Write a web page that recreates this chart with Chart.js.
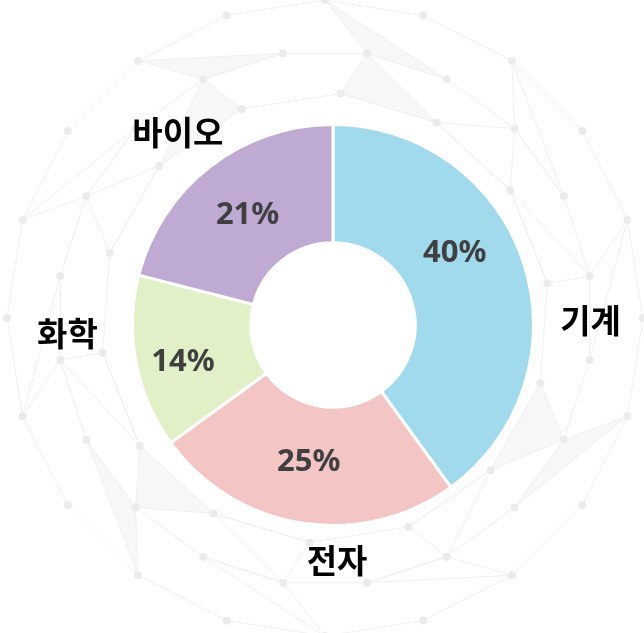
<!DOCTYPE html>
<html>
<head>
<meta charset="utf-8">
<script src="https://cdn.jsdelivr.net/npm/chart.js@4"></script>
<style>
  html, body { margin: 0; padding: 0; background: #fff; }
  #wrap { width: 644px; height: 633px; position: relative; }
</style>
</head>
<body>
<div id="wrap"><canvas id="myChart" width="644" height="633"></canvas></div>
<script>
const categories = ['기계', '전자', '화학', '바이오'];
const shares = [40, 25, 14, 21];
const colors = ['#A0DAEC', '#F4C5C5', '#E2F0C8', '#BFAAD4'];

// label placement tweaks (degrees off the slice middle, radius as a share of the outer radius)
const pctShift = [-12.5, 1, -3, 0];
const pctRadius = [0.705, 0.695, 0.77, 0.695];
const nameShift = [17, -10, 9, -1];
const nameRadius = [1.285, 1.175, 1.325, 1.235];

// faint network pattern behind the chart
const backdrop = {
    id: 'backdrop',
    beforeDraw(chart) {
        const ctx = chart.ctx;
        const cx = 325, cy = 318;
        const rings = [[318, 20, 0], [268, 20, 9], [225, 14, 4]];
        const pts = rings.map(([r, n, off]) => {
            const out = [];
            for (let i = 0; i < n; i++) {
                const a = (i * 360 / n + off) * Math.PI / 180;
                out.push([cx + r * Math.sin(a), cy - r * Math.cos(a)]);
            }
            return out;
        });
        ctx.save();
        ctx.strokeStyle = '#f0f0f0';
        ctx.lineWidth = 1;
        ctx.fillStyle = 'rgba(240,240,240,0.5)';
        pts.forEach((ring, k) => {
            ctx.beginPath();
            ring.forEach((p, i) => i ? ctx.lineTo(p[0], p[1]) : ctx.moveTo(p[0], p[1]));
            ctx.closePath();
            ctx.stroke();
            if (k < pts.length - 1) {
                const inner = pts[k + 1];
                ring.forEach((p, i) => {
                    if (i % 2) return;
                    const j = Math.floor(i * inner.length / ring.length);
                    const q = inner[j], q2 = inner[(j + 1) % inner.length];
                    ctx.beginPath();
                    ctx.moveTo(p[0], p[1]);
                    ctx.lineTo(q[0], q[1]);
                    ctx.lineTo(q2[0], q2[1]);
                    ctx.closePath();
                    if (i % 6 === 0) ctx.fill();
                    ctx.stroke();
                });
            }
        });
        ctx.fillStyle = '#ebebeb';
        pts.forEach(ring => ring.forEach(p => {
            ctx.beginPath();
            ctx.arc(p[0], p[1], 4, 0, Math.PI * 2);
            ctx.fill();
        }));
        ctx.restore();
    }
};

const sliceLabels = {
    id: 'sliceLabels',
    afterDatasetsDraw(chart) {
        const ctx = chart.ctx;
        const meta = chart.getDatasetMeta(0);
        ctx.save();
        ctx.textAlign = 'center';
        ctx.textBaseline = 'middle';
        meta.data.forEach((arc, i) => {
            const { x, y, startAngle, endAngle, outerRadius } = arc.getProps(['x', 'y', 'startAngle', 'endAngle', 'outerRadius'], true);
            const mid = (startAngle + endAngle) / 2;
            let a = mid + pctShift[i] * Math.PI / 180;
            let r = outerRadius * pctRadius[i];
            ctx.font = 'bold 31px "Noto Sans", "Open Sans", sans-serif';
            ctx.fillStyle = '#404040';
            ctx.fillText(shares[i] + '%', x + r * Math.cos(a), y + r * Math.sin(a));
            a = mid + nameShift[i] * Math.PI / 180;
            r = outerRadius * nameRadius[i];
            ctx.font = 'bold 33px "Noto Sans CJK KR", sans-serif';
            ctx.fillStyle = '#000';
            ctx.fillText(categories[i], x + r * Math.cos(a), y + r * Math.sin(a));
        });
        ctx.restore();
    }
};

new Chart(document.getElementById('myChart'), {
    type: 'doughnut',
    data: {
        labels: categories,
        datasets: [{
            data: shares,
            backgroundColor: colors,
            borderColor: '#ffffff',
            borderWidth: 3
        }]
    },
    options: {
        responsive: false,
        animation: false,
        cutout: '41%',
        layout: { padding: { left: 131, right: 109, top: 123, bottom: 106 } },
        plugins: {
            legend: { display: false },
            tooltip: { enabled: false }
        }
    },
    plugins: [backdrop, sliceLabels]
});
</script>
</body>
</html>
